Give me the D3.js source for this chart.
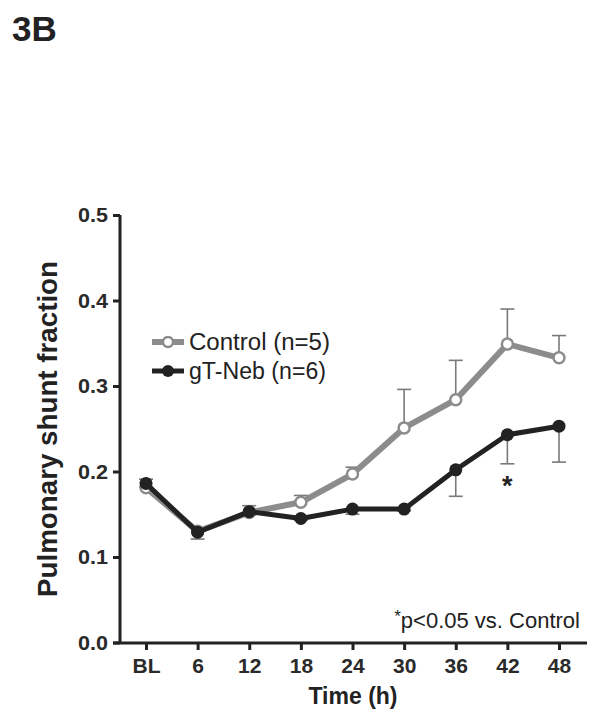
<!DOCTYPE html>
<html><head><meta charset="utf-8">
<script src="https://cdn.jsdelivr.net/npm/d3@7"></script>
<style>body{margin:0;background:#fff}svg{display:block}</style>
</head><body>
<svg id="c" width="601" height="725"></svg>
<script>
const categories = ["BL","6","12","18","24","30","36","42","48"];
const controlMean = [0.181,0.130,0.152,0.164,0.197,0.251,0.284,0.349,0.333];
const controlErr  = [0.010,0.004,0.008,0.008,0.008,0.045,0.046,0.041,0.026];
const gtMean = [0.186,0.129,0.153,0.145,0.156,0.156,0.202,0.243,0.253];
const gtErr  = [0.004,0.008,0.004,0.002,0.006,0.002,0.031,0.034,0.042];
const yTicks = [0.0,0.1,0.2,0.3,0.4,0.5];
const seriesNames = ["Control (n=5)","gT-Neb (n=6)"];
const sigIndex = [7];

const svg = d3.select("#c");
const font = "'Liberation Sans', Arial, Helvetica, sans-serif";
const gray = "#8c8c8c", black = "#222", errCol = "#7a7a7a";

const x = d3.scalePoint().domain(categories).range([146, 559]);
const y = d3.scaleLinear().domain([0, 0.5]).range([642.5, 215]);

// title
svg.append("text").attr("x", 12).attr("y", 41).attr("font-family", font)
  .attr("font-weight", "bold").attr("font-size", 35).attr("fill", "#222").text("3B");

// axes
const yAxis = d3.axisLeft(y).tickValues(yTicks).tickFormat(d3.format(".1f")).tickSize(7).tickPadding(5);
const gy = svg.append("g").attr("transform", "translate(120,0)").call(yAxis);
gy.select(".domain").attr("d", "M0,215V644").attr("stroke", "#222").attr("stroke-width", 3);
gy.selectAll(".tick line").attr("stroke", "#222").attr("stroke-width", 3);
gy.selectAll(".tick text").attr("font-family", font).attr("font-weight", "bold")
  .attr("font-size", 21).attr("fill", "#2a2a2a").attr("textLength", 30).attr("lengthAdjust","spacingAndGlyphs");

const xAxis = d3.axisBottom(x).tickSize(7).tickPadding(8);
const gx = svg.append("g").attr("transform", "translate(0,643)").call(xAxis);
gx.select(".domain").attr("d", "M113,0H587").attr("stroke", "#222").attr("stroke-width", 3);
gx.selectAll(".tick line").attr("stroke", "#222").attr("stroke-width", 3);
gx.selectAll(".tick text").attr("font-family", font).attr("font-weight", "bold")
  .attr("font-size", 21).attr("fill", "#2a2a2a");

// axis labels
svg.append("text").attr("transform", "translate(57,429) rotate(-90)").attr("text-anchor", "middle")
  .attr("font-family", font).attr("font-weight", "bold").attr("font-size", 27).attr("fill", "#222")
  .attr("textLength", 336).attr("lengthAdjust", "spacingAndGlyphs")
  .text("Pulmonary shunt fraction");
svg.append("text").attr("x", 353).attr("y", 704).attr("text-anchor", "middle")
  .attr("font-family", font).attr("font-weight", "bold").attr("font-size", 23).attr("fill", "#222")
  .text("Time (h)");

// error bars
function errBars(mean, err, dir) {
  const g = svg.append("g").attr("stroke", errCol).attr("stroke-width", 1.6).attr("fill", "none");
  categories.forEach((c, i) => {
    const y0 = y(mean[i]), y1 = y(mean[i] + dir * err[i]);
    g.append("line").attr("x1", x(c)).attr("x2", x(c)).attr("y1", y0).attr("y2", y1);
    g.append("line").attr("x1", x(c) - 7).attr("x2", x(c) + 7).attr("y1", y1).attr("y2", y1);
  });
}
errBars(controlMean, controlErr, 1);
errBars(gtMean, gtErr, -1);

const line = d3.line().x((d, i) => x(categories[i])).y(d => y(d));
svg.append("path").datum(controlMean).attr("d", line).attr("fill", "none")
  .attr("stroke", gray).attr("stroke-width", 6).attr("stroke-linejoin", "round");
svg.selectAll(".cpt").data(controlMean).enter().append("circle")
  .attr("cx", (d, i) => x(categories[i])).attr("cy", d => y(d)).attr("r", 5.5)
  .attr("fill", "#fff").attr("stroke", gray).attr("stroke-width", 2.5);

svg.append("path").datum(gtMean).attr("d", line).attr("fill", "none")
  .attr("stroke", black).attr("stroke-width", 5).attr("stroke-linejoin", "round");
svg.selectAll(".gpt").data(gtMean).enter().append("circle")
  .attr("cx", (d, i) => x(categories[i])).attr("cy", d => y(d)).attr("r", 6.5)
  .attr("fill", black);

// significance
sigIndex.forEach(i => {
  svg.append("text").attr("x", x(categories[i])).attr("y", y(gtMean[i] - gtErr[i]) + 31)
    .attr("text-anchor", "middle").attr("font-family", font).attr("font-weight", "bold")
    .attr("font-size", 27).attr("fill", "#222").text("*");
});

// legend
const leg = svg.append("g");
[[seriesNames[0], 342, "c"], [seriesNames[1], 371, "g"]].forEach(([name, ly, t]) => {
  leg.append("line").attr("x1", 152).attr("x2", 184).attr("y1", ly).attr("y2", ly)
    .attr("stroke", t === "c" ? gray : black).attr("stroke-width", t === "c" ? 6 : 5);
  if (t === "c") leg.append("circle").attr("cx", 168).attr("cy", ly).attr("r", 5)
    .attr("fill", "#fff").attr("stroke", gray).attr("stroke-width", 2.5);
  else leg.append("circle").attr("cx", 168).attr("cy", ly).attr("r", 6).attr("fill", black);
  leg.append("text").attr("x", 189).attr("y", ly + 8).attr("font-family", font)
    .attr("font-size", 23).attr("fill", "#222").attr("textLength", name === seriesNames[0] ? 141 : 137)
    .attr("lengthAdjust", "spacingAndGlyphs").text(name);
});

// footnote
const fn = svg.append("text").attr("x", 580).attr("y", 628).attr("text-anchor", "end")
  .attr("font-family", font).attr("font-size", 22).attr("fill", "#222");
fn.append("tspan").attr("font-size", 17).attr("dy", -6).text("*");
fn.append("tspan").attr("dy", 6).text("p<0.05 vs. Control");
</script>
</body></html>
